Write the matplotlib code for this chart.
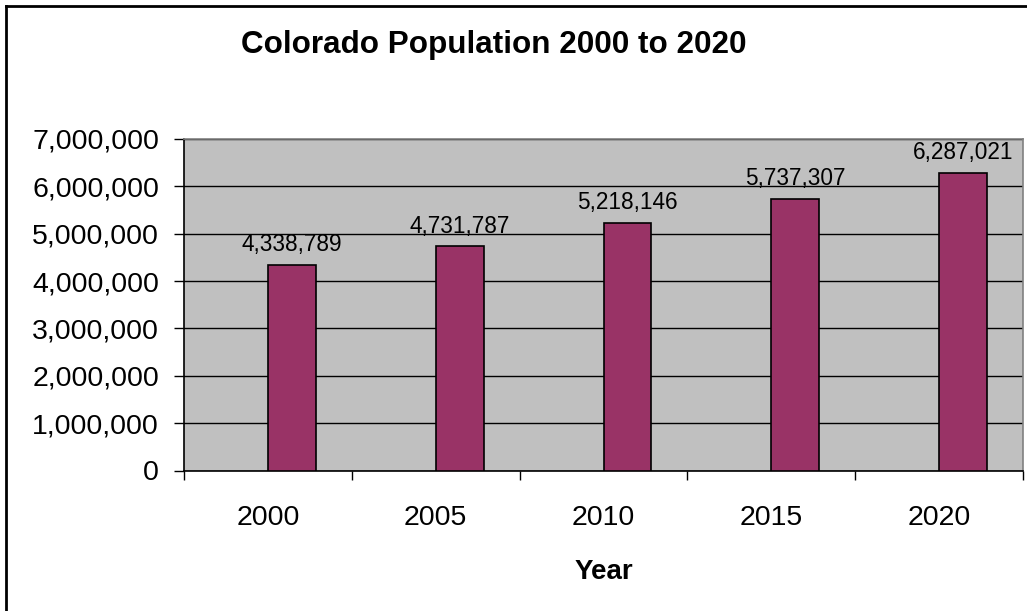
import matplotlib
matplotlib.use("Agg")
import matplotlib.pyplot as plt
from matplotlib.lines import Line2D
from matplotlib.ticker import FuncFormatter, MultipleLocator

years = ["2000", "2005", "2010", "2015", "2020"]
population = [4338789, 4731787, 5218146, 5737307, 6287021]

plt.rcParams["font.family"] = ["Liberation Sans", "DejaVu Sans"]

W, H = 1027, 611
fig = plt.figure(figsize=(W / 100, H / 100), dpi=100)
fig.patch.set_facecolor("white")

# plot area in pixel terms
left, right, top, bottom = 184, 1023, 139, 470.5
ax = fig.add_axes([left / W, 1 - bottom / H, (right - left) / W, (bottom - top) / H])
ax.set_facecolor("#C0C0C0")

x = list(range(len(years)))
bar_w = 0.286
ax.bar(x, population, width=bar_w, align="edge", color="#993366",
       edgecolor="black", linewidth=1.2, zorder=3)

for xi, v in zip(x, population):
    ax.annotate(f"{v:,}", (xi + bar_w / 2, v), xytext=(0, 10),
                textcoords="offset points", ha="center", va="baseline",
                fontsize=16.3, color="black", zorder=4)

ax.set_xlim(-0.5, len(years) - 0.5)
ax.set_ylim(0, 7000000)
ax.yaxis.set_major_locator(MultipleLocator(1000000))
ax.yaxis.set_major_formatter(FuncFormatter(lambda v, p: f"{int(v):,}"))
ax.grid(axis="y", color="black", linewidth=1.0, zorder=1)
ax.set_axisbelow(True)

# category ticks sit between groups; labels sit at group centres
ax.set_xticks([i - 0.5 for i in range(len(years) + 1)])
ax.set_xticklabels([])
ax.set_xticks(x, minor=True)
ax.set_xticklabels(years, minor=True, fontsize=20.5)
ax.tick_params(axis="x", which="major", direction="out", length=6.5, width=1, color="black")
ax.tick_params(axis="x", which="minor", length=0, pad=25)
ax.tick_params(axis="y", direction="out", length=7, width=1, color="black",
               labelsize=20.5, pad=11)

for side in ("top", "right"):
    ax.spines[side].set_color("#808080")
    ax.spines[side].set_linewidth(1.2)
for side in ("left", "bottom"):
    ax.spines[side].set_color("black")
    ax.spines[side].set_linewidth(1.2)

ax.set_xlabel("Year", fontsize=20, fontweight="bold", labelpad=20)

fig.text(494 / W, 1 - 53 / H, "Colorado Population 2000 to 2020",
         ha="center", va="baseline", fontsize=22.6, fontweight="bold")

# chart-area frame along the top and left edges
fig.add_artist(Line2D([6 / W, 1], [1 - 6 / H, 1 - 6 / H], transform=fig.transFigure,
                      color="black", linewidth=2))
fig.add_artist(Line2D([6 / W, 6 / W], [0, 1 - 6 / H], transform=fig.transFigure,
                      color="black", linewidth=2))

fig.savefig("out.png", dpi=100)
